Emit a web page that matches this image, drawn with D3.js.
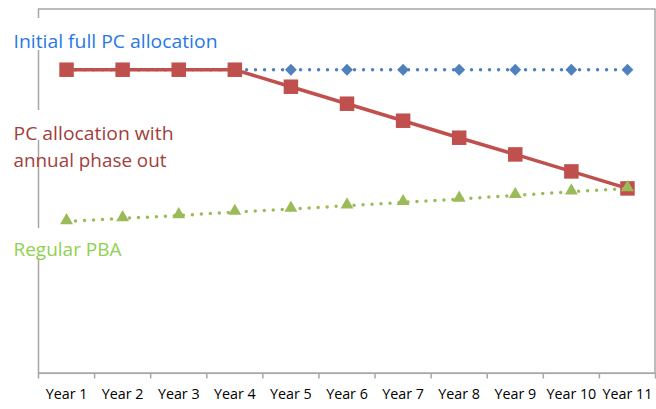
<!DOCTYPE html>
<html><head><meta charset="utf-8">
<script src="https://cdn.jsdelivr.net/npm/d3@7"></script>
<style>body{margin:0;background:#fff}svg{display:block}</style>
</head><body>
<svg id="c" width="656" height="409"></svg>
<script>
const years = ["Year 1","Year 2","Year 3","Year 4","Year 5","Year 6","Year 7","Year 8","Year 9","Year 10","Year 11"];
const fullPC = [100,100,100,100,100,100,100,100,100,100,100];
const phaseOut = [100,100,100,100,94.4,88.8,83.2,77.6,72.1,66.5,60.9];
const regularPBA = [50,51,52,53.1,54.1,55.2,56.3,57.4,58.6,59.8,60.9];
const labels = [
  {text:["Initial full PC allocation"], color:"#2878E6", y:[48.3], len:[204], box:[18,50]},
  {text:["PC allocation with","annual phase out"], color:"#A03F3C", y:[140,166.5], len:[160,153], box:[110,140]},
  {text:["Regular PBA"], color:"#92D050", y:[256.3], len:[108], box:[228,258]}
];

const svg = d3.select("#c");
const x = d3.scaleBand().domain(years).range([38.5,655.5]).padding(0);
const y = d3.scaleLinear().domain([0,120]).range([373.3,9]);
const cx = d => x(d)+x.bandwidth()/2;
const axisCol = "#A6A6A6";

// frame
svg.append("rect").attr("x",38.5).attr("y",9).attr("width",655-38.5).attr("height",373.3-9)
  .attr("fill","none").attr("stroke",axisCol).attr("stroke-width",1.5);

// bottom axis
const ax = svg.append("g").attr("transform","translate(0,373.3)")
  .call(d3.axisBottom(x).tickSize(0).tickPadding(16));
ax.select(".domain").remove();
ax.selectAll("text").attr("font-family","'Open Sans'").attr("font-size",14.3).attr("fill","#000");
const bounds = years.map(d=>x(d)).concat([x.range()[1]]);
svg.selectAll("line.tk").data(bounds).join("line").attr("class","tk")
  .attr("x1",d=>d).attr("x2",d=>d).attr("y1",373.3).attr("y2",378.5)
  .attr("stroke",axisCol).attr("stroke-width",1.5);
svg.append("line").attr("x1",38.5).attr("x2",655.5).attr("y1",373.3).attr("y2",373.3)
  .attr("stroke",axisCol).attr("stroke-width",1.5);

// labels with white boxes
labels.forEach(l=>{
  svg.append("rect").attr("x",8).attr("y",l.box[0]).attr("width",40).attr("height",l.box[1]-l.box[0]).attr("fill","#fff");
  l.text.forEach((t,i)=>{
    svg.append("text").attr("x",13.5).attr("y",l.y[i]).text(t)
      .attr("font-family","'Open Sans'").attr("font-size",19).attr("fill",l.color)
      .attr("textLength",l.len[i]).attr("lengthAdjust","spacingAndGlyphs");
  });
});

const line = d3.line().x((d,i)=>cx(years[i])).y(d=>y(d));

// blue series
svg.append("path").datum(fullPC).attr("d",line).attr("fill","none")
  .attr("stroke","#4F81BD").attr("stroke-width",3.5).attr("stroke-linecap","round").attr("stroke-dasharray","0 9");
svg.selectAll("path.dia").data(fullPC).join("path").attr("class","dia")
  .attr("d",d3.symbol(d3.symbolSquare,70)())
  .attr("transform",(d,i)=>`translate(${cx(years[i])},${y(d)}) rotate(45)`)
  .attr("fill","#4F81BD");

// red series
svg.append("path").datum(phaseOut).attr("d",line).attr("fill","none")
  .attr("stroke","#C0504D").attr("stroke-width",3.5);
svg.selectAll("path.sq").data(phaseOut).join("path").attr("class","sq")
  .attr("d",d3.symbol(d3.symbolSquare,210)())
  .attr("transform",(d,i)=>`translate(${cx(years[i])},${y(d)})`)
  .attr("fill","#C0504D");

// green series
svg.append("path").datum(regularPBA).attr("d",line).attr("fill","none")
  .attr("stroke","#9BBB59").attr("stroke-width",3.5).attr("stroke-linecap","round").attr("stroke-dasharray","0 9");
svg.selectAll("path.tri").data(regularPBA).join("path").attr("class","tri")
  .attr("d",d3.symbol(d3.symbolTriangle,72)())
  .attr("transform",(d,i)=>`translate(${cx(years[i])},${y(d)-1})`)
  .attr("fill","#9BBB59");
</script>
</body></html>
